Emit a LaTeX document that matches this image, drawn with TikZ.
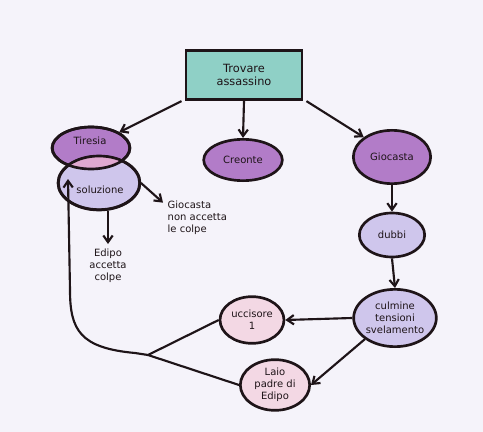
\documentclass[tikz,border=0pt]{standalone}
\usepackage{fontspec}
\setmainfont{DejaVu Sans}
\usetikzlibrary{arrows.meta,shapes.geometric}
\definecolor{paper}{HTML}{F5F3FA}
\definecolor{teal}{HTML}{8FD0C6}
\definecolor{violet}{HTML}{B27CC8}
\definecolor{lav}{HTML}{CFC6EC}
\definecolor{pinkish}{HTML}{F3D8E4}
\definecolor{overlap}{HTML}{E0A8D0}
\definecolor{ink}{HTML}{1E1418}
\begin{document}
\begin{tikzpicture}[x=0.75pt,y=-0.75pt,
  every node/.style={font=\fontsize{7.5}{9}\selectfont,text=ink},
  blob/.style={ellipse,draw=ink,line width=2pt,inner sep=0pt,align=center},
  conn/.style={draw=ink,line width=1.6pt,-{Straight Barb[length=5pt,width=7pt]}},
  plain/.style={draw=ink,line width=1.6pt},
  outline/.style={draw=ink,line width=2pt}]
\fill[paper] (0,0) rectangle (483,432);
\useasboundingbox (0,0) rectangle (483,432);
% nodes
\node[draw=ink,line width=2.2pt,fill=teal,minimum width=87pt,minimum height=37pt,align=center,font=\fontsize{8.5}{10}\selectfont] (top) at (244,75) {Trovare\\assassino};
\node[blob,fill=violet,minimum width=58pt,minimum height=31.5pt] (tir) at (91,148) {};
\node[blob,fill=lav,minimum width=61pt,minimum height=40pt] (sol) at (99,183) {};
\begin{scope}
  \clip (91,148) ellipse [x radius=39, y radius=21];
  \fill[overlap] (99,183) ellipse [x radius=41, y radius=27];
\end{scope}
\draw[outline] (91,148) ellipse [x radius=39, y radius=21];
\draw[outline] (99,183) ellipse [x radius=41, y radius=27];
\node at (90,141) {Tiresia};
\node at (100,190) {soluzione};
\node[blob,fill=violet,minimum width=59pt,minimum height=31pt] (cre) at (243,160) {Creonte};
\node[blob,fill=violet,minimum width=58pt,minimum height=40pt] (gio) at (392,157) {Giocasta};
\node[blob,fill=lav,minimum width=49pt,minimum height=33pt] (dub) at (392,235) {dubbi};
\node[blob,fill=lav,minimum width=53pt,minimum height=43pt] (cul) at (395,318) {culmine\\tensioni\\svelamento};
\node[blob,fill=pinkish,minimum width=48pt,minimum height=35pt] (ucc) at (252,320) {uccisore\\1};
\node[blob,fill=pinkish,minimum width=52pt,minimum height=38pt] (lai) at (275,385) {Laio\\padre di\\Edipo};
\node[align=left,anchor=north west] (gnc) at (163,196) {Giocasta\\non accetta\\le colpe};
\node[align=center,anchor=north] (edc) at (108,244) {Edipo\\accetta\\colpe};
\coordinate (j) at (148,355);
\coordinate (fb) at (68,179);
% connectors
\draw[conn] (top.south west) ++(-3,0) -- (tir.north east);
\draw[conn] (top.south) -- (cre.north);
\draw[conn] (top.south east) ++(3,0) -- (gio.north west);
\draw[conn] (gio.south) -- (dub.north);
\draw[conn] (dub.south) -- (cul.north);
\draw[conn] (cul.west) -- (ucc.east);
\draw[conn] (cul.south west) -- (lai.east);
\draw[conn] (sol.east) -- ([yshift=-5pt]gnc.north west);
\draw[conn] (sol.south -| edc.north) -- (edc.north);
\draw[plain] (ucc.west) -- (j);
\draw[plain] (lai.west) -- (j);
\draw[conn] (j) -- (135,353) .. controls (80,348) and (70,330) .. (70,290) -- (fb);
\end{tikzpicture}
\end{document}
